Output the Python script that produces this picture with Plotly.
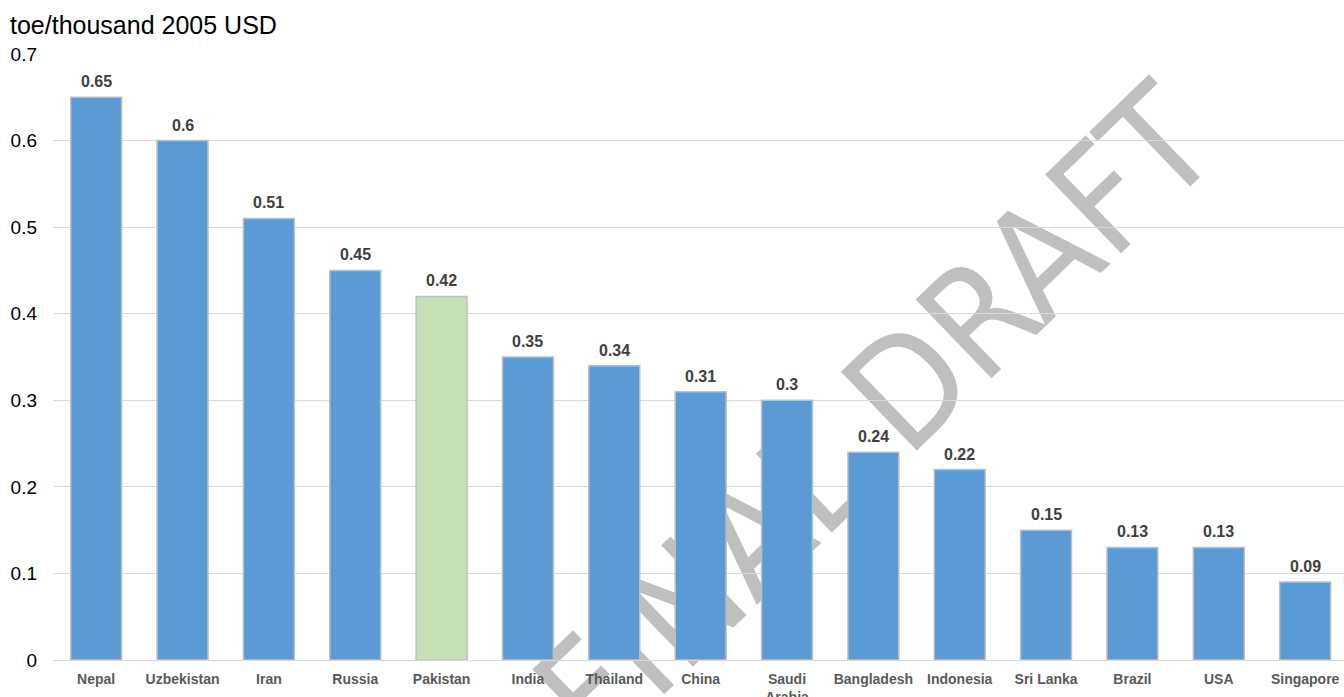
import plotly.graph_objects as go

countries = ["Nepal", "Uzbekistan", "Iran", "Russia", "Pakistan", "India", "Thailand",
             "China", "Saudi<br>Arabia", "Bangladesh", "Indonesia", "Sri Lanka", "Brazil",
             "USA", "Singapore"]
values = [0.65, 0.6, 0.51, 0.45, 0.42, 0.35, 0.34, 0.31, 0.3, 0.24, 0.22, 0.15, 0.13, 0.13, 0.09]
highlight = "Pakistan"
y_title = "toe/thousand 2005 USD"
watermark = "FINAL DRAFT"

colors = ["#C5E0B4" if c == highlight else "#5B9BD5" for c in countries]

W, H = 1344, 697
ml, mr, mt, mb = 53, 0, 54, 37
pw, ph = W - ml - mr, H - mt - mb

fig = go.Figure()
fig.add_trace(go.Bar(
    x=list(range(len(countries))), y=values,
    marker=dict(color=colors, line=dict(color="#BFBFBF", width=1.5)),
    width=0.59, cliponaxis=False, hoverinfo="skip",
))

for i, v in enumerate(values):
    fig.add_annotation(x=i, y=v, text=f"<b>{v:g}</b>", showarrow=False,
                       yanchor="bottom", yshift=5,
                       font=dict(family="Liberation Sans, Arial", size=16, color="#404040"))

# watermark drawn beneath the gridlines via a shape label
cx, cy = 868, 410
px = (cx - ml) / pw
py = (H - mb - cy) / ph
fig.add_shape(type="rect", xref="paper", yref="paper",
              x0=px - 0.001, x1=px + 0.001, y0=py - 0.001, y1=py + 0.001,
              line=dict(width=0), fillcolor="rgba(0,0,0,0)", layer="below",
              label=dict(text=watermark, textangle=-44, textposition="middle center",
                         font=dict(family="DejaVu Sans Condensed, Liberation Sans",
                                   size=150, color="#BFBFBF")))

fig.update_layout(
    width=W, height=H,
    margin=dict(l=ml, r=mr, t=mt, b=mb, autoexpand=False),
    paper_bgcolor="white", plot_bgcolor="white",
    showlegend=False,
    title=dict(text=y_title, xref="container", yref="container",
               x=10 / W, xanchor="left", y=1 - 25 / H, yanchor="middle",
               font=dict(family="Liberation Sans, Arial", size=25, color="#000000")),
    xaxis=dict(tickmode="array", tickvals=list(range(len(countries))),
               ticktext=[f"<b>{c}</b>" for c in countries], automargin=False,
               range=[-0.5, 14.45], showgrid=False, zeroline=False, showline=False,
               ticks="", ticklabelstandoff=9,
               tickfont=dict(family="Liberation Sans, Arial", size=14, color="#595959")),
    yaxis=dict(range=[0, 0.7], dtick=0.1, showgrid=True, gridcolor="#D9D9D9", gridwidth=1,
               zeroline=True, zerolinecolor="#D9D9D9", zerolinewidth=1, showline=False,
               ticks="", ticklabelstandoff=15, automargin=False,
               tickfont=dict(family="Liberation Sans, Arial", size=19, color="#000000")),
)

fig.write_html("out.html")
